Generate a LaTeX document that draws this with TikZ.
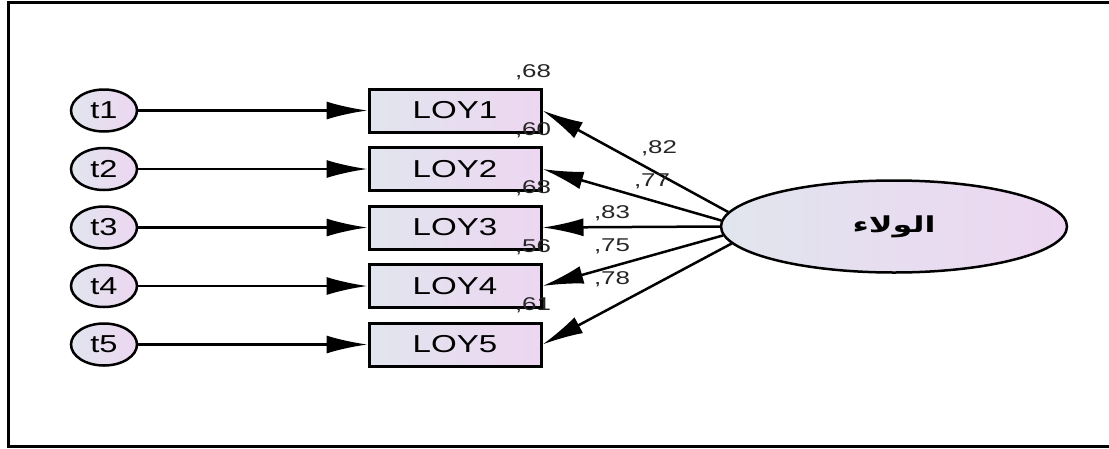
\documentclass[tikz,border=0pt]{standalone}
\usepackage{fontspec}
\setmainfont{Liberation Sans}
\newfontfamily\arabicfont[Script=Arabic]{DejaVu Sans}
\TeXXeTstate=1
\usetikzlibrary{shapes.geometric,arrows.meta}
\definecolor{fillL}{HTML}{E1E5EE}
\definecolor{fillR}{HTML}{EDD6F1}
\begin{document}
\begin{tikzpicture}[x=1pt,y=-1pt,
  obsbox/.style={rectangle,draw=black,line width=3pt,minimum width=172pt,minimum height=43pt,inner sep=0pt,left color=fillL,right color=fillR,font=\fontsize{24.5}{25}\selectfont},
  errnode/.style={ellipse,draw=black,line width=2.5pt,minimum width=66pt,minimum height=42pt,inner sep=0pt,left color=fillL,right color=fillR,font=\fontsize{24.5}{25}\selectfont},
  latnode/.style={ellipse,draw=black,line width=2.5pt,minimum width=346pt,minimum height=92pt,inner sep=0pt,left color=fillL,right color=fillR},
  numlab/.style={inner sep=0pt,font=\fontsize{18.5}{19}\selectfont,text=black!85},
  arr/.style={line width=2.5pt,-{Latex[length=41pt,width=18pt]}}
]
\useasboundingbox (0,0) rectangle (1109,448);
\fill[white] (0,0) rectangle (1109,448);
% frame
\draw[line width=3pt] (1115,2) -- (8,2) -- (8,446) -- (1115,446);

\foreach \i/\y in {1/110.5,2/169,3/227.5,4/286,5/344.5}{
  \node[obsbox] (loy\i) at (455,\y) {\scalebox{1.35}[1]{LOY\i}};
  \node[errnode] (t\i) at (104,\y) {\scalebox{1.33}[1]{t\i}};
  \draw[arr] (t\i) -- (loy\i.west);
}

\node[latnode] (lat) at (894,226.5) {\arabicfont\bfseries\fontsize{22}{24}\selectfont\scalebox{1.45}[1]{\beginR الولاء\endR}};

\draw[arr] (lat.175) -- (loy1.east);
\draw[arr] (lat.178) -- (loy2.east);
\draw[arr] (lat.180) -- (loy3.east);
\draw[arr] (lat.183) -- (loy4.east);
\draw[arr] (lat.186) -- (loy5.east);

% squared multiple correlations
\node[numlab] (r1) at (533,72) {\scalebox{1.4}[1]{,68}};
\node[numlab] (r2) at (533,130) {\scalebox{1.4}[1]{,60}};
\node[numlab] (r3) at (533,188) {\scalebox{1.4}[1]{,68}};
\node[numlab] (r4) at (533,247) {\scalebox{1.4}[1]{,56}};
\node[numlab] (r5) at (533,305) {\scalebox{1.4}[1]{,61}};

% loadings
\node[numlab] (l1) at (659,148) {\scalebox{1.4}[1]{,82}};
\node[numlab] (l2) at (652,181) {\scalebox{1.4}[1]{,77}};
\node[numlab] (l3) at (612,213) {\scalebox{1.4}[1]{,83}};
\node[numlab] (l4) at (612,246) {\scalebox{1.4}[1]{,75}};
\node[numlab] (l5) at (612,279) {\scalebox{1.4}[1]{,78}};
\end{tikzpicture}
\end{document}
